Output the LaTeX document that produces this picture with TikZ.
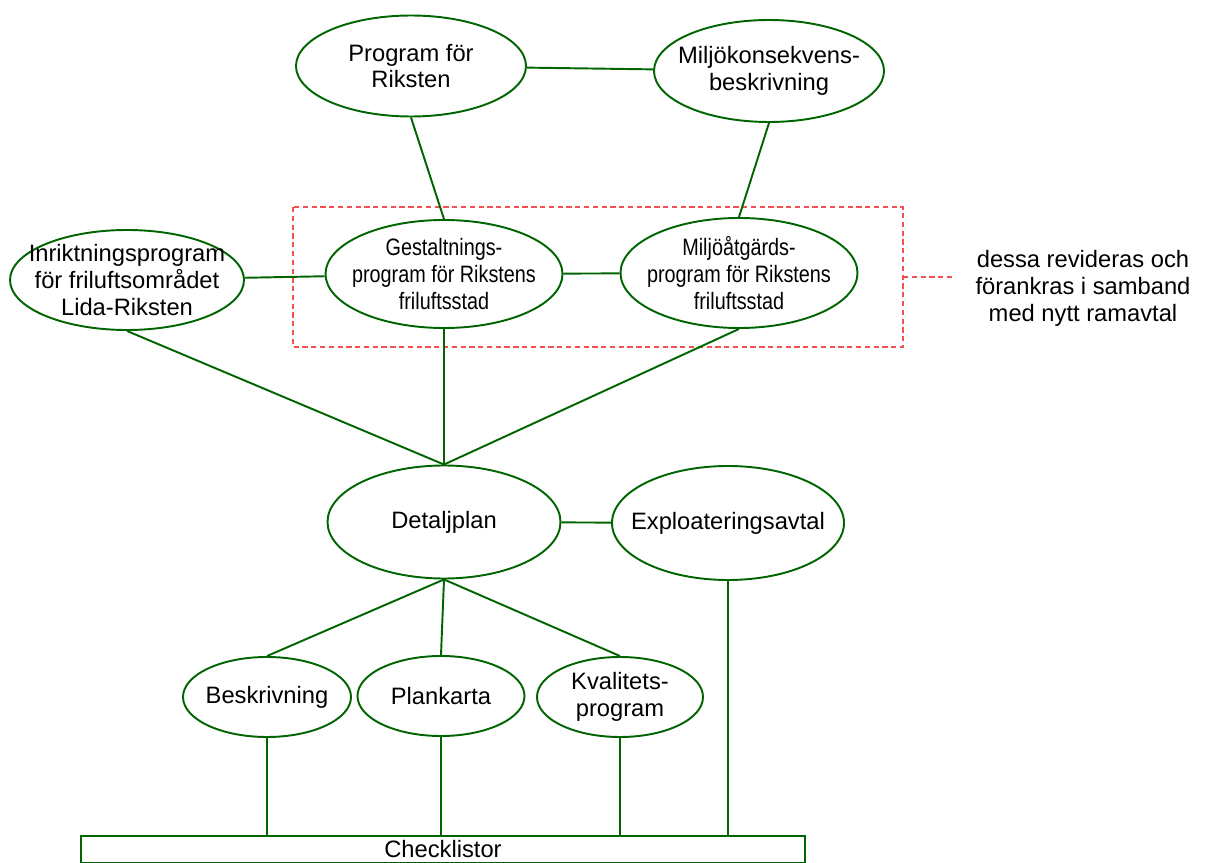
\documentclass[tikz,border=0pt]{standalone}
\usepackage{fontspec}
\setmainfont{Liberation Sans}
\usepackage{tikz}
\usepackage{xcolor}
\usetikzlibrary{shapes.geometric}
\definecolor{skog}{RGB}{0,100,0}
\definecolor{rodstreck}{RGB}{245,80,80}
\tikzset{
  bubble/.style={ellipse, draw=skog, line width=1.1pt, inner sep=0pt},
  txt/.style={align=center, inner sep=0pt, font=\fontsize{13.5}{15.3}\selectfont},
  trang/.style={txt, xscale=0.835, transform shape},
  link/.style={draw=skog, line width=1.1pt},
  ram/.style={rodstreck, line width=0.6pt, dash pattern=on 3pt off 2pt}
}

\begin{document}
\begin{tikzpicture}[x=0.2mm,y=-0.2mm]
                \useasboundingbox (0,0) rectangle (1205,863);
                % upper row
                \node[bubble, minimum width=4.6cm, minimum height=2.02cm, label={[txt]center:Program f\"or\\Riksten}] (prog) at (411,66) {};
                \node[bubble, minimum width=4.6cm, minimum height=2.04cm, label={[txt]center:Milj\"okonsekvens-\\beskrivning}] (mkb) at (769,71) {};
                % middle row
                \node[bubble, minimum width=4.68cm, minimum height=2cm, label={[txt]center:Inriktningsprogram\\f\"or friluftsomr\aa det\\Lida-Riksten}] (inrikt) at (127,280) {};
                \node[bubble, minimum width=4.74cm, minimum height=2.16cm, label={[trang]center:Gestaltnings-\\program f\"or Rikstens\\friluftsstad}] (gestalt) at (444,274) {};
                \node[bubble, minimum width=4.74cm, minimum height=2.2cm, label={[trang]center:Milj\"o\aa tg\"ards-\\program f\"or Rikstens\\friluftsstad}] (atgard) at (739,273) {};
                % detaljplan
                \node[bubble, minimum width=4.66cm, minimum height=2.26cm, label={[txt]center:Detaljplan}] (dp) at (444,522) {};
                \node[bubble, minimum width=4.64cm, minimum height=2.28cm, label={[txt]center:Exploateringsavtal}] (expl) at (728,523) {};
                % lower row
                \node[bubble, minimum width=3.36cm, minimum height=1.6cm, label={[txt]center:Beskrivning}] (beskr) at (267,697) {};
                \node[bubble, minimum width=3.34cm, minimum height=1.6cm, label={[txt]center:Plankarta}] (plank) at (441,696) {};
                \node[bubble, minimum width=3.32cm, minimum height=1.6cm, label={[txt]center:Kvalitets-\\program}] (kval) at (620,697) {};
                \node[draw=skog, line width=1.1pt, inner sep=0pt, minimum width=14.48cm, minimum height=0.54cm,
                  anchor=north west, font=\fontsize{13.5}{15.3}\selectfont] (check) at (80,835) {Checklistor};
                % red frame and note
                \draw[ram] (293,207) rectangle (903,347);
                \coordinate (frame) at (903,277);
                \node[txt] (note) at (1083,288) {dessa revideras och\\f\"orankras i samband\\med nytt ramavtal};
                \draw[ram] (frame) -- (955,277);
                % connections
                \draw[link] (prog) -- (mkb);
                \draw[link] (prog.south) -- (gestalt.north);
                \draw[link] (mkb.south) -- (atgard.north);
                \draw[link] (inrikt) -- (gestalt);
                \draw[link] (gestalt) -- (atgard);
                \draw[link] (inrikt.south) -- (dp.north);
                \draw[link] (gestalt.south) -- (dp.north);
                \draw[link] (atgard.south) -- (dp.north);
                \draw[link] (dp) -- (expl);
                \draw[link] (dp.south) -- (beskr.north);
                \draw[link] (dp.south) -- (plank.north);
                \draw[link] (dp.south) -- (kval.north);
                \draw[link] (beskr.south) -- (beskr.south |- check.north);
                \draw[link] (plank.south) -- (plank.south |- check.north);
                \draw[link] (kval.south) -- (kval.south |- check.north);
                \draw[link] (expl.south) -- (expl.south |- check.north);
            \end{tikzpicture}
\end{document}
